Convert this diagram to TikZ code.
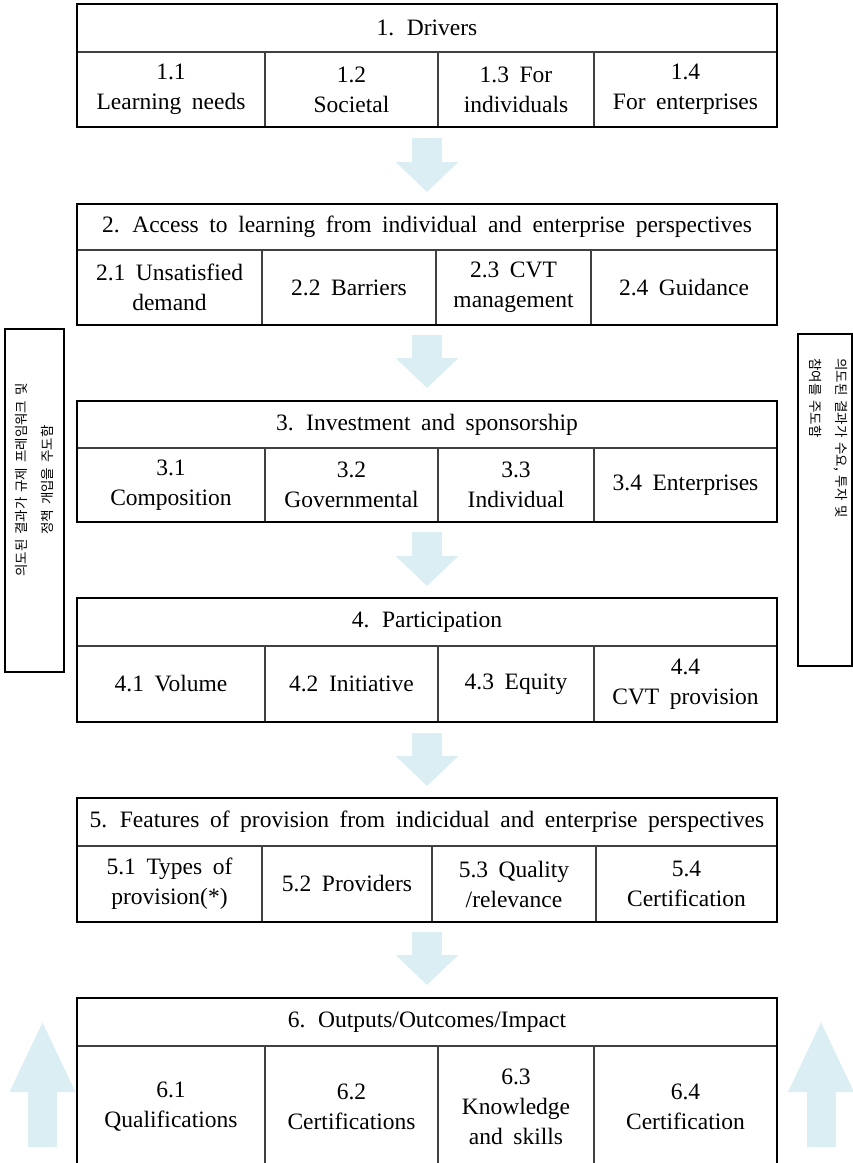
\documentclass[tikz,border=0pt]{standalone}
\usepackage{fontspec}
\setmainfont{Liberation Serif}[WordSpace=1.8]
\newfontfamily\kofont{Noto Sans CJK KR}[WordSpace=1.6]
\usepackage{xcolor}
\usetikzlibrary{arrows.meta,positioning}
\definecolor{flowblue}{HTML}{DAEEF3}
\begin{document}
\begin{tikzpicture}[
  x=1pt, y=-1pt,
  every node/.style={font=\fontsize{23.5}{30}\selectfont, align=center},
  hdr/.style={draw=black, line width=1.2pt, outer sep=0pt, anchor=north west, minimum width=700pt},
  cell/.style={draw=black!75, line width=1.2pt, outer sep=0pt, inner sep=2pt},
  frame/.style={draw=black, line width=1.4pt},
  flow/.style={line width=30pt, color=flowblue, -{Triangle[length=30pt, width=61pt]}},
  rise/.style={line width=29pt, color=flowblue, -{Triangle[length=72pt, width=60pt]}},
  sidebox/.style={draw=black, line width=1.6pt, outer sep=0pt, anchor=north west},
  sidetext/.style={font=\kofont\fontsize{13.5}{26}\selectfont, inner sep=0pt}
]
\useasboundingbox (0,0) rectangle (853,1163);

% 1. Drivers
\node[hdr, minimum height=48pt] (h1) at (77,4) {1. Drivers};
\node[cell, minimum width=188pt, minimum height=75pt, below right=0pt and 0pt of h1.south west] (c11) {1.1\\Learning needs};
\node[cell, minimum width=173pt, minimum height=75pt, right=0pt of c11] (c12) {1.2\\Societal};
\node[cell, minimum width=156pt, minimum height=75pt, right=0pt of c12] (c13) {1.3 For\\individuals};
\node[cell, minimum width=183pt, minimum height=75pt, right=0pt of c13] (c14) {1.4\\For enterprises};
\draw[frame] (h1.north west) rectangle (c14.south east);

% 2. Access
\node[hdr, minimum height=46pt] (h2) at (77,204) {2. Access to learning from individual and enterprise perspectives};
\node[cell, minimum width=185pt, minimum height=75pt, below right=0pt and 0pt of h2.south west] (c21) {2.1 Unsatisfied\\demand};
\node[cell, minimum width=174pt, minimum height=75pt, right=0pt of c21] (c22) {2.2 Barriers};
\node[cell, minimum width=155pt, minimum height=75pt, right=0pt of c22] (c23) {2.3 CVT\\management};
\node[cell, minimum width=186pt, minimum height=75pt, right=0pt of c23] (c24) {2.4 Guidance};
\draw[frame] (h2.north west) rectangle (c24.south east);

% 3. Investment
\node[hdr, minimum height=47pt] (h3) at (77,401) {3. Investment and sponsorship};
\node[cell, minimum width=188pt, minimum height=74pt, below right=0pt and 0pt of h3.south west] (c31) {3.1\\Composition};
\node[cell, minimum width=173pt, minimum height=74pt, right=0pt of c31] (c32) {3.2\\Governmental};
\node[cell, minimum width=156pt, minimum height=74pt, right=0pt of c32] (c33) {3.3\\Individual};
\node[cell, minimum width=183pt, minimum height=74pt, right=0pt of c33] (c34) {3.4 Enterprises};
\draw[frame] (h3.north west) rectangle (c34.south east);

% 4. Participation
\node[hdr, minimum height=48pt] (h4) at (77,598) {4. Participation};
\node[cell, minimum width=188pt, minimum height=76pt, below right=0pt and 0pt of h4.south west] (c41) {4.1 Volume};
\node[cell, minimum width=173pt, minimum height=76pt, right=0pt of c41] (c42) {4.2 Initiative};
\node[cell, minimum width=156pt, minimum height=76pt, right=0pt of c42] (c43) {4.3 Equity};
\node[cell, minimum width=183pt, minimum height=76pt, right=0pt of c43] (c44) {4.4\\CVT provision};
\draw[frame] (h4.north west) rectangle (c44.south east);

% 5. Features
\node[hdr, minimum height=48pt] (h5) at (77,798) {5. Features of provision from indicidual and enterprise perspectives};
\node[cell, minimum width=185pt, minimum height=76pt, below right=0pt and 0pt of h5.south west] (c51) {5.1 Types of\\provision(*)};
\node[cell, minimum width=170pt, minimum height=76pt, right=0pt of c51] (c52) {5.2 Providers};
\node[cell, minimum width=164pt, minimum height=76pt, right=0pt of c52] (c53) {5.3 Quality\\/relevance};
\node[cell, minimum width=181pt, minimum height=76pt, right=0pt of c53] (c54) {5.4\\Certification};
\draw[frame] (h5.north west) rectangle (c54.south east);

% 6. Outputs
\node[hdr, minimum height=48pt] (h6) at (77,998) {6. Outputs/Outcomes/Impact};
\node[cell, minimum width=188pt, minimum height=122pt, below right=0pt and 0pt of h6.south west] (c61) {6.1\\Qualifications};
\node[cell, minimum width=173pt, minimum height=122pt, right=0pt of c61] (c62) {6.2\\Certifications};
\node[cell, minimum width=156pt, minimum height=122pt, right=0pt of c62] (c63) {6.3\\Knowledge\\and skills};
\node[cell, minimum width=183pt, minimum height=122pt, right=0pt of c63] (c64) {6.4\\Certification};
\draw[frame] (h6.north west) rectangle (c64.south east);

% flow between blocks
\draw[flow] ([yshift=-11pt]h1 |- c11.south) -- ([yshift=12pt]h2.north);
\draw[flow] ([yshift=-10pt]h2 |- c21.south) -- ([yshift=13pt]h3.north);
\draw[flow] ([yshift=-10pt]h3 |- c31.south) -- ([yshift=12pt]h4.north);
\draw[flow] ([yshift=-11pt]h4 |- c41.south) -- ([yshift=12pt]h5.north);
\draw[flow] ([yshift=-10pt]h5 |- c51.south) -- ([yshift=13pt]h6.north);

% side boxes
\node[sidebox, minimum width=59pt, minimum height=343pt] (lbox) at (5,329) {};
\node[sidetext, rotate=90] (ltext) at (34,480) {의도된 결과가 규제 프레임워크 및\\정책 개입을 주도함};
\node[sidebox, minimum width=54pt, minimum height=332pt] (rbox) at (798,334) {};
\node[sidetext, rotate=-90, align=left, anchor=west] (rtext) at (829,358) {의도된 결과가 수요, 투자 및\\참여를 주도함};

% rising arrows
\coordinate (lbase) at (42.5,1147);
\coordinate (ltip) at (42.5,1020);
\coordinate (rbase) at (821,1147);
\coordinate (rtip) at (821,1020);
\draw[rise] (lbase) -- (ltip);
\draw[rise] (rbase) -- (rtip);
\end{tikzpicture}
\end{document}
